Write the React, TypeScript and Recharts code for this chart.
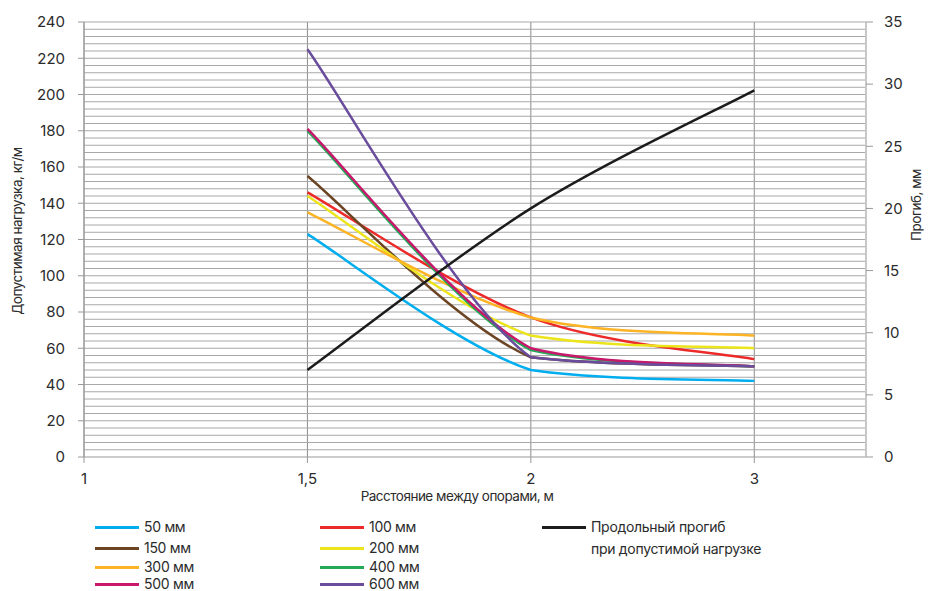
import React from 'react'
import { LineChart, Line, XAxis, YAxis, CartesianGrid, ReferenceLine } from 'recharts'

// categories on the x axis (spans, m)
const X_LABELS = ['1', '1,5', '2', '3']

// allowed load, kg/m, per profile height
const load50 = [null, 123, 48, 42]
const load100 = [null, 146, 77, 54]
const load150 = [null, 155, 55, 50]
const load200 = [null, 144, 67, 60]
const load300 = [null, 135, 77, 67]
const load400 = [null, 180, 59, 50]
const load500 = [null, 181, 60, 50]
const load600 = [null, 225, 55, 50]

// deflection, mm (right axis)
const deflection = [null, 7, 20, 29.5]

const LEFT_TICKS = [0, 20, 40, 60, 80, 100, 120, 140, 160, 180, 200, 220, 240]
const RIGHT_TICKS = [0, 5, 10, 15, 20, 25, 30, 35]

const SERIES = [
  { key: 's50', name: '50 мм', color: '#00aeef', values: load50 },
  { key: 's100', name: '100 мм', color: '#ed2a2a', values: load100 },
  { key: 's150', name: '150 мм', color: '#6b4423', values: load150 },
  { key: 's200', name: '200 мм', color: '#ede51c', values: load200 },
  { key: 's300', name: '300 мм', color: '#fdb424', values: load300 },
  { key: 's400', name: '400 мм', color: '#23a957', values: load400 },
  { key: 's500', name: '500 мм', color: '#c8186c', values: load500 },
  { key: 's600', name: '600 мм', color: '#6a4c9c', values: load600 },
]

const data = X_LABELS.map((label, i) => {
  const row: Record<string, number | string | null> = { x: i, label, defl: deflection[i] }
  SERIES.forEach(s => { row[s.key] = s.values[i] })
  return row
})

// minor horizontal grid every 4 kg/m
const gridLines: number[] = []
for (let v = 4; v <= 240; v += 4) gridLines.push(v)

// Excel-like smoothing: Catmull-Rom, control points kept inside each segment's y range (no overshoot)
function smoothCurve(context: any) {
  let pts: [number, number][] = []
  const clamp = (v: number, a: number, b: number) => Math.min(Math.max(v, Math.min(a, b)), Math.max(a, b))
  return {
    areaStart() {},
    areaEnd() {},
    lineStart() { pts = [] },
    point(x: number, y: number) { pts.push([+x, +y]) },
    lineEnd() {
      const n = pts.length
      if (!n) return
      context.moveTo(pts[0][0], pts[0][1])
      for (let i = 0; i < n - 1; i++) {
        const p0 = pts[Math.max(i - 1, 0)]
        const p1 = pts[i]
        const p2 = pts[i + 1]
        const p3 = pts[Math.min(i + 2, n - 1)]
        const c1y = clamp(p1[1] + (p2[1] - p0[1]) / 6, p1[1], p2[1])
        const c2y = clamp(p2[1] - (p3[1] - p1[1]) / 6, p1[1], p2[1])
        context.bezierCurveTo(
          p1[0] + (p2[0] - p0[0]) / 6, c1y,
          p2[0] - (p3[0] - p1[0]) / 6, c2y,
          p2[0], p2[1],
        )
      }
    },
  }
}

const FONT = 'Inter, "Noto Sans", sans-serif'
const TEXT = '#2b2b2b'
const tickStyle = { fontSize: 15, fill: TEXT, fontFamily: FONT }
const titleStyle: React.CSSProperties = {
  position: 'absolute', whiteSpace: 'nowrap', fontSize: 13.5, color: TEXT, fontFamily: FONT, letterSpacing: -0.5,
}

const legendRowsY = [527, 548, 567, 584]

function LegendItem({ x, y, color, lines }: { x: number; y: number; color: string; lines: string[] }) {
  return (
    <div style={{ position: 'absolute', left: x, top: y - 7, display: 'flex', alignItems: 'flex-start' }}>
      <div style={{ width: 44, height: 3, background: color, marginTop: 6 }} />
      <div style={{ marginLeft: 5, fontSize: 14, lineHeight: '14px', color: TEXT, fontFamily: FONT, letterSpacing: -0.3 }}>
        {lines.map((l, i) => <div key={l} style={{ marginTop: i ? 8 : 0 }}>{l}</div>)}
      </div>
    </div>
  )
}

export default function App() {
  return (
    <div style={{ position: 'absolute', left: 0, top: 0, width: 930, height: 591, background: '#fff', overflow: 'hidden' }}>
      <LineChart width={930} height={591} data={data} margin={{ top: 22, right: 0, bottom: 94, left: 0 }}>
        <CartesianGrid yAxisId="left" horizontal={false} stroke="#8c8c8c" strokeWidth={1} />
        {gridLines.map(v => (
          <ReferenceLine key={v} yAxisId="left" y={v} stroke="#a8a8a8" strokeWidth={1} />
        ))}
        <XAxis
          dataKey="x"
          type="number"
          domain={[0, 3.5]}
          ticks={[0, 1, 2, 3]}
          tickFormatter={(v: number) => X_LABELS[v] ?? ''}
          tick={tickStyle}
          tickSize={6}
          tickMargin={10}
          stroke="#999"
          height={40}
        />
        <YAxis
          yAxisId="left"
          domain={[0, 240]}
          ticks={LEFT_TICKS}
          tick={tickStyle}
          tickSize={6}
          tickMargin={13}
          stroke="#999"
          width={84}
        />
        <YAxis
          yAxisId="right"
          orientation="right"
          domain={[0, 35]}
          ticks={RIGHT_TICKS}
          tick={{ ...tickStyle, textAnchor: 'start' }}
          tickSize={7}
          tickMargin={11}
          axisLine={{ stroke: '#c8c8c8', strokeWidth: 2 }}
          tickLine={{ stroke: '#999' }}
          width={64}
        />
        {SERIES.map(s => (
          <Line
            key={s.key}
            yAxisId="left"
            type={smoothCurve as any}
            dataKey={s.key}
            name={s.name}
            stroke={s.color}
            strokeWidth={2.5}
            dot={false}
            isAnimationActive={false}
          />
        ))}
        <Line
          yAxisId="right"
          type={smoothCurve as any}
          dataKey="defl"
          name="Продольный прогиб при допустимой нагрузке"
          stroke="#1c1c1c"
          strokeWidth={2.5}
          dot={false}
          isAnimationActive={false}
        />
      </LineChart>

      {/* axis titles */}
      <div style={{ ...titleStyle, left: 457, top: 496, transform: 'translate(-50%, -50%)' }}>
        Расстояние между опорами, м
      </div>
      <div style={{ ...titleStyle, left: 17, top: 231, transform: 'translate(-50%, -50%) rotate(-90deg)' }}>
        Допустимая нагрузка, кг/м
      </div>
      <div style={{ ...titleStyle, left: 916, top: 205, transform: 'translate(-50%, -50%) rotate(-90deg)' }}>
        Прогиб, мм
      </div>

      {/* legend */}
      {SERIES.map((s, i) => (
        <LegendItem key={s.key} x={i % 2 === 0 ? 95 : 320} y={legendRowsY[Math.floor(i / 2)]} color={s.color} lines={[s.name]} />
      ))}
      <LegendItem x={542} y={legendRowsY[0]} color="#1c1c1c" lines={['Продольный прогиб', 'при допустимой нагрузке']} />
    </div>
  )
}
